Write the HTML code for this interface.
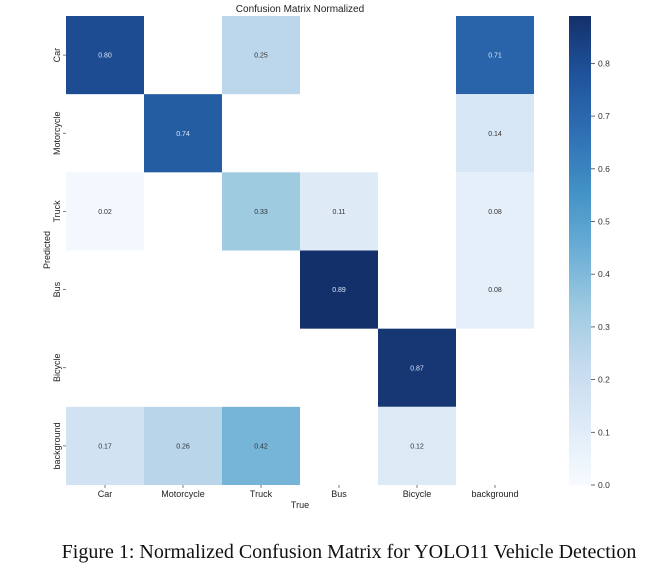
<!DOCTYPE html>
<html><head><meta charset="utf-8"><style>
body{margin:0;background:#fff;width:668px;height:576px;overflow:hidden}
svg text{font-family:"Liberation Sans",sans-serif}
</style></head><body>
<svg id="chart" width="668" height="576" xmlns="http://www.w3.org/2000/svg">
<defs><linearGradient id="cb" x1="0" y1="1" x2="0" y2="0"></linearGradient></defs>
<text x="300" y="12" font-size="10" text-anchor="middle" fill="#222">Confusion Matrix Normalized</text>
<g id="cells"></g><g id="xt"></g><g id="yt"></g><g id="cbar"></g>
<text x="300" y="508" font-size="9" text-anchor="middle" fill="#222">True</text>
<text x="50" y="250" font-size="9" text-anchor="middle" fill="#222" transform="rotate(-90 50 250)">Predicted</text>
<text x="349" y="558" font-size="20" text-anchor="middle" fill="#111" style="font-family:'Liberation Serif',serif">Figure 1: Normalized Confusion Matrix for YOLO11 Vehicle Detection</text>
</svg>
<script>
const classes=["Car","Motorcycle","Truck","Bus","Bicycle","background"];
const rowCar=[0.80,0,0.25,0,0,0.71];
const rowMotorcycle=[0,0.74,0,0,0,0.14];
const rowTruck=[0.02,0,0.33,0.11,0,0.08];
const rowBus=[0,0,0,0.89,0,0.08];
const rowBicycle=[0,0,0,0,0.87,0];
const rowBackground=[0.17,0.26,0.42,0,0.12,0];
const cbTicks=[0,0.1,0.2,0.3,0.4,0.5,0.6,0.7,0.8];
const rows=[rowCar,rowMotorcycle,rowTruck,rowBus,rowBicycle,rowBackground];
const vmax=0.89;
const X0=66,Y0=16,W=468,H=469,CW=W/6,RH=H/6;
const blues=["#f7fbff","#deebf7","#c6dbef","#9ecae1","#6baed6","#4292c6","#2f6fb3","#1f539b","#14306b"];
function hex(h){return [1,3,5].map(i=>parseInt(h.substr(i,2),16));}
function cmap(v){let t=Math.max(0,Math.min(1,v/vmax))*8;let i=Math.min(7,Math.floor(t)),f=t-i;
 const a=hex(blues[i]),b=hex(blues[i+1]);return "rgb("+a.map((c,k)=>Math.round(c+(b[k]-c)*f)).join(",")+")";}
const NS="http://www.w3.org/2000/svg";
function el(tag,attrs,parent,txt){const e=document.createElementNS(NS,tag);for(const k in attrs)e.setAttribute(k,attrs[k]);if(txt!==undefined)e.textContent=txt;parent.appendChild(e);return e;}
const xs=c=>X0+c*CW, ys=r=>Y0+r*RH;
const cells=document.getElementById("cells");
rows.forEach((row,r)=>row.forEach((v,c)=>{
 if(v<=0)return;
 const rc=el("rect",{x:xs(c),y:ys(r),width:CW,height:RH,fill:cmap(v)},cells);
 
 
 const t=el("text",{x:xs(c)+CW/2,y:ys(r)+RH/2+2.5,"font-size":"7","text-anchor":"middle",fill:v>0.5?"#dbe8f7":"#333"},cells,v.toFixed(2));
 
 
}));
const xt=document.getElementById("xt"),yt=document.getElementById("yt");
classes.forEach((c,i)=>{
 const t=el("text",{x:xs(i)+CW/2,y:497,"font-size":"9","text-anchor":"middle",fill:"#222"},xt,c);
 
 
 el("line",{x1:xs(i)+CW/2,x2:xs(i)+CW/2,y1:485,y2:488,stroke:"#444","stroke-width":"0.7"},xt);
 const cy=ys(i)+RH/2;
 const yl=el("text",{x:60,y:cy,"font-size":"9","text-anchor":"middle",fill:"#222",transform:"rotate(-90 60 "+cy+")"},yt,c);
 
 
 el("line",{x1:63,x2:66,y1:cy,y2:cy,stroke:"#444","stroke-width":"0.7"},yt);
});
const g=document.getElementById("cb");
blues.forEach((b,i)=>el("stop",{offset:(i/8),"stop-color":b},g));
const cb=document.getElementById("cbar");
const bar=el("rect",{x:569,y:Y0,width:22,height:H,fill:"url(#cb)"},cb);


const cy=v=>Y0+H-v/vmax*H;
cbTicks.forEach(v=>{
 el("line",{x1:591,x2:595,y1:cy(v),y2:cy(v),stroke:"#444","stroke-width":"0.8"},cb);
 const t=el("text",{x:598,y:cy(v)+3,"font-size":"8.5",fill:"#333"},cb,v.toFixed(1));
 
 
});
</script>
</body></html>
